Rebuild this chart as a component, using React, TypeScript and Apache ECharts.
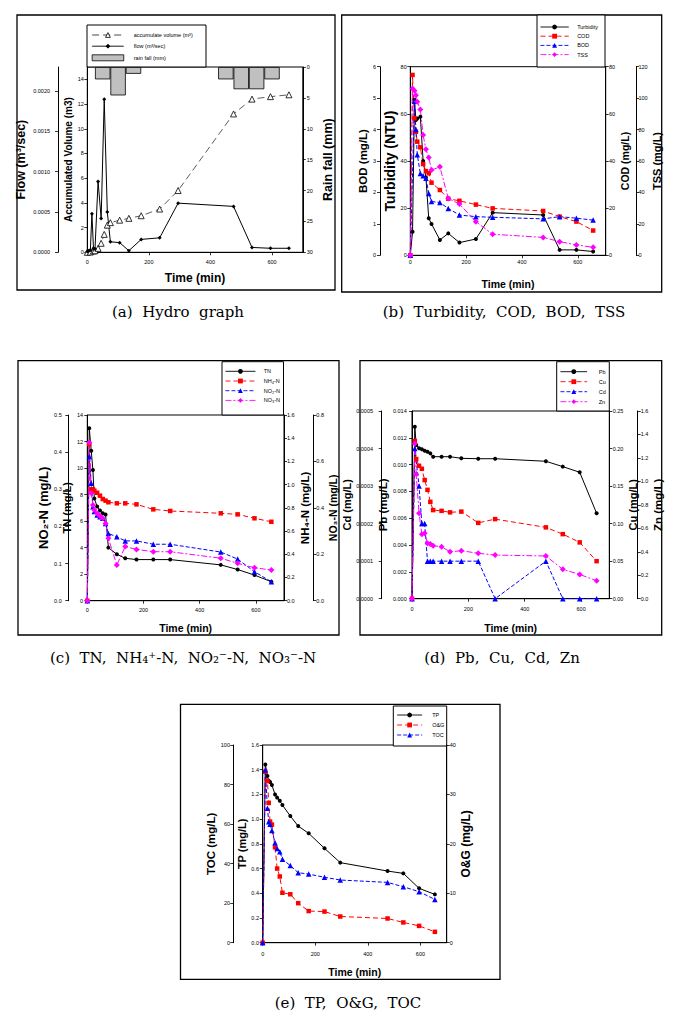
import React, { useEffect, useRef } from "react";
import * as echarts from "echarts";

// ---------- (a) Hydro graph ----------
const timeA = [0, 5, 10, 15, 20, 25, 35, 45, 55, 65, 75, 105, 135, 175, 235, 295, 475, 535, 595, 655];
const flowA = [0.00001, 0.00002, 0.00003, 0.00048, 0.00005, 0.00004, 0.00088, 0.00042, 0.0019, 0.0005, 0.00013, 0.00012, 0.00002, 0.00016, 0.00018, 0.00061, 0.00057, 0.00006, 0.00005, 0.00005];
const volumeA = [0, null, 0.02, null, 0.1, 0.13, 0.32, 0.73, 1.45, 2.2, 2.4, 2.6, 2.75, 2.96, 3.5, 5.0, 11.2, 12.4, 12.6, 12.75];
const rainTime = [50, 100, 150, 450, 500, 550, 600];
const rainA = [2.0, 4.6, 1.1, 2.0, 3.6, 3.6, 2.0];

// ---------- (b) Turbidity, COD, BOD, TSS ----------
const timeB = [0, 8, 15, 20, 25, 36, 46, 56, 66, 76, 106, 136, 176, 235, 295, 476, 535, 595, 655];
const turbB = [0, 10, 66, 57.4, 58, 58.8, 40, 33, 15.7, 13.3, 6.5, 9.3, 5.4, 6.9, 18.1, 17.1, 2.3, 2.3, 1.6];
const codB = [0, 76.5, 58.1, 52.4, 48.2, 45.8, 38.7, 35.7, 34.8, 30.8, 27.7, 24.0, 23.1, 21.5, 19.9, 18.8, 16.4, 14.3, 10.5];
const bodB = [0, null, 4.9, 4.0, 3.2, 2.6, 2.53, 2.45, 1.97, 1.71, 1.68, 1.49, 1.28, 1.23, 1.21, 1.16, 1.23, 1.18, 1.12];
const tssB = [0, 106.2, 104.7, 101.9, 97.7, 92.8, 76.5, 67.4, 62.3, 54.2, 56.3, 36.2, 32.6, 21.4, 13.4, 11.4, 8.7, 6.6, 5.1];

// ---------- (c) TN, NH4-N, NO2-N, NO3-N ----------
const timeC = [0, 7, 14, 20, 25, 35, 45, 55, 65, 75, 105, 135, 175, 235, 295, 475, 535, 595, 655];
const tnC = [0, 13.0, 11.3, 9.86, 7.7, 7.1, 6.8, 6.6, 6.5, 4.0, 3.5, 3.2, 3.1, 3.1, 3.1, 2.7, 2.35, 1.93, 1.43];
const nh4C = [0, 1.35, 0.96, 0.96, 0.948, 0.93, 0.905, 0.876, 0.862, 0.848, 0.839, 0.839, 0.83, 0.787, 0.773, 0.753, 0.744, 0.71, 0.68];
const no2C = [0, 0.388, 0.316, 0.253, 0.24, 0.231, 0.226, 0.222, 0.208, 0.181, 0.172, 0.161, 0.161, 0.152, 0.152, 0.131, 0.112, 0.078, 0.051];
const no3C = [0, 0.682, 0.463, 0.412, 0.391, 0.376, 0.365, 0.355, 0.333, 0.269, 0.154, 0.233, 0.221, 0.211, 0.211, 0.183, 0.161, 0.142, 0.132];

// ---------- (d) Pb, Cu, Cd, Zn ----------
const timeD = [0, 10, 15, 25, 35, 45, 55, 65, 75, 105, 135, 175, 235, 295, 475, 535, 595, 655];
const pbD = [0, 0.01283, 0.01146, 0.01122, 0.01114, 0.01104, 0.01096, 0.01084, 0.01059, 0.01059, 0.01059, 0.01047, 0.01044, 0.01044, 0.01025, 0.00985, 0.00943, 0.00637];
const cuD = [0, 0.21, 0.186, 0.177, 0.173, 0.158, 0.145, 0.129, 0.118, 0.117, 0.115, 0.116, 0.101, 0.106, 0.095, 0.086, 0.075, 0.05];
const cdD = [0, 0.0004, null, 0.0003, 0.0002, 0.0002, 0.0001, 0.0001, 0.0001, 0.0001, 0.0001, 0.0001, 0.0001, 0, 0.0001, 0, 0, 0];
const znD = [0, 1.32, 1.06, 0.728, 0.55, 0.557, 0.472, 0.466, 0.452, 0.443, 0.4, 0.409, 0.387, 0.372, 0.364, 0.25, 0.207, 0.153];

// ---------- (e) TP, O&G, TOC ----------
const timeE = [0, 10, 18, 23, 28, 35, 47, 55, 65, 75, 105, 135, 175, 235, 295, 475, 535, 595, 655];
const tpE = [0, 1.443, 1.35, 1.31, 1.3, 1.276, 1.2, 1.174, 1.149, 1.114, 1.025, 0.944, 0.885, 0.764, 0.648, 0.58, 0.561, 0.44, 0.391];
const ogE = [0, 34.6, 32.7, 28.3, 24.5, 23.9, 19.3, 15.0, 13.4, 10.1, 9.8, 8.0, 6.4, 6.3, 5.3, 4.9, 4.1, 3.4, 2.2];
const tocE = [0, 87.4, 68, 61.2, 59.9, 56.7, 50.6, 47.7, 46, 42.2, 39, 35.4, 34.7, 33.1, 31.7, 30.5, 28.3, 25.8, 21.9];

// ---------- tick labels ----------
const timeTicks = [0, 200, 400, 600];
const volumeTicks = [0, 2, 4, 6, 8, 10, 12, 14];
const flowTicks = [0, 0.0005, 0.001, 0.0015, 0.002];

const captions = [
  "(a) \u00A0Hydro \u00A0graph",
  "(b) \u00A0Turbidity, \u00A0COD, \u00A0BOD, \u00A0TSS",
  "(c) \u00A0TN, \u00A0NH\u2084\u207A-N, \u00A0NO\u2082\u207B-N, \u00A0NO\u2083\u207B-N",
  "(d) \u00A0Pb, \u00A0Cu, \u00A0Cd, \u00A0Zn",
  "(e) \u00A0TP, \u00A0O&G, \u00A0TOC",
];

// ---------- layout ----------
const FONT = "'Liberation Sans', Arial, 'DejaVu Sans', sans-serif";
const NARROW = "'Liberation Sans Narrow', 'Liberation Sans', Arial, sans-serif";
const SERIF = "'DejaVu Serif', 'Liberation Serif', serif";

const grids = [
  { left: 87.3, top: 67, width: 215.5, height: 185.3 },
  { left: 410.3, top: 66.7, width: 195.4, height: 188.6 },
  { left: 87.3, top: 415, width: 196.7, height: 185.7 },
  { left: 412, top: 411, width: 197.3, height: 187.7 },
  { left: 262.7, top: 745, width: 184, height: 197.7 },
];
const frames = [
  [17, 15, 318, 275],
  [341.7, 15, 320, 277],
  [18, 360.7, 321, 274.3],
  [360, 360.7, 301.7, 274.3],
  [180.5, 704.3, 319.5, 275],
];
const legendBoxes = [
  [87, 25, 119, 42],
  [537, 15, 68, 52],
  [222, 361.7, 61.5, 53.3],
  [556.7, 361.7, 52.6, 49.3],
  [393.3, 706, 53.4, 40],
];
const captionPos = [
  [178, 312],
  [504, 312],
  [183, 658],
  [502, 658],
  [348, 1003],
];
const xLabelMargin = [6.5, 3.6, 5.9, 7.5, 7.9];
const xNameGap = [20, 23, 22, 24, 24];

function pairs(times: number[], vals: (number | null)[]) {
  const out: number[][] = [];
  times.forEach((t, i) => {
    const v = vals[i];
    if (v !== null && v !== undefined) out.push([t, v]);
  });
  return out;
}

function yAx(
  gi: number, pos: string, offset: number, min: number, max: number, step: number,
  name: string, nameGap: number, nameSize: number, dec: number, margin: number,
  opts: any = {}
) {
  const ax: any = {
    type: "value", gridIndex: gi, position: pos, offset, min, max, interval: step,
    inverse: !!opts.inverse,
    name, nameLocation: "middle", nameGap,
    nameTextStyle: { fontSize: nameSize, fontWeight: "bold", fontFamily: FONT, color: "#000" },
    axisLine: { show: true, onZero: false, lineStyle: { color: "#000", width: 1 } },
    axisTick: { show: true, length: 3, lineStyle: { color: "#000", width: 0.8 } },
    axisLabel: {
      fontSize: 5.5, fontFamily: FONT, color: "#000", margin,
      formatter: (v: number) => v.toFixed(dec),
    },
    splitLine: { show: false },
  };
  if (opts.ticks) {
    ax.axisTick.customValues = opts.ticks;
    ax.axisLabel.customValues = opts.ticks;
  }
  return ax;
}

const ST = {
  black: { symbol: "circle", size: 4, color: "#000", dash: "solid" },
  red: { symbol: "rect", size: 4.5, color: "#ff0000", dash: [5, 3] },
  blue: { symbol: "triangle", size: 5.5, color: "#0000ff", dash: [4, 2] },
  pink: { symbol: "diamond", size: 6, color: "#ff00ff", dash: [6, 2, 2, 2] },
};

function line(name: string, xi: number, yi: number, times: number[], vals: (number | null)[], st: any) {
  return {
    type: "line", name, xAxisIndex: xi, yAxisIndex: yi,
    data: pairs(times, vals),
    symbol: st.symbol, symbolSize: st.size,
    itemStyle: { color: st.fill ?? st.color, borderColor: st.border ?? st.color, borderWidth: st.bw ?? 0 },
    lineStyle: { color: st.lineColor ?? st.color, width: st.width ?? 1, type: st.dash },
    emphasis: { disabled: true },
  };
}

function legend(names: any[], left: number, top: number, itemWidth: number, gap: number, pad: number) {
  return {
    orient: "vertical", left, top, padding: 0, itemWidth, itemHeight: 6, itemGap: gap,
    selectedMode: false, data: names,
    lineStyle: { width: 0.9 },
    textStyle: { fontSize: 5.5, fontFamily: FONT, color: "#000", lineHeight: 6, padding: [0, 0, 0, pad] },
  };
}

function buildOption() {
  const xAxes = grids.map((g, i) => ({
    type: "value", gridIndex: i, min: 0, max: 700,
    name: "Time (min)", nameLocation: "middle", nameGap: xNameGap[i],
    nameTextStyle: {
      fontSize: i === 0 ? 12 : 10.5, fontWeight: "bold",
      fontFamily: i === 0 ? FONT : NARROW, color: "#000",
    },
    axisLine: { show: true, onZero: false, lineStyle: { color: "#000", width: 1 } },
    axisTick: { show: true, length: 3, lineStyle: { color: "#000", width: 0.8 }, customValues: timeTicks },
    axisLabel: { fontSize: 5.5, fontFamily: FONT, color: "#000", margin: xLabelMargin[i], customValues: timeTicks },
    splitLine: { show: false },
  }));

  const yAxes: any[] = [];
  const add = (a: any) => { yAxes.push(a); return yAxes.length - 1; };

  // (a)
  const yVol = add(yAx(0, "left", 0, 0, 15, 2, "Accumulated Volume (m3)", 9, 10, 0, 3.5, { ticks: volumeTicks }));
  const yFlow = add(yAx(0, "left", 29.3, 0, 0.0023, 0.0005, "Flow (m\u00B3/sec)", 31, 12.5, 4, 8, { ticks: flowTicks }));
  const yRain = add(yAx(0, "right", 0, 0, 30, 5, "Rain fall (mm)", 19, 12.5, 0, 4, { inverse: true }));
  // (b)
  const yTurb = add(yAx(1, "left", 0, 0, 80, 20, "Turbidity (NTU)", 10.5, 14, 0, 3.6));
  const yBod = add(yAx(1, "left", 30.3, 0, 6, 1, "BOD (mg/L)", 10, 11.5, 0, 4));
  const yCod = add(yAx(1, "right", 0, 0, 80, 20, "COD (mg/L)", 12.6, 10.5, 0, 3.3));
  const yTss = add(yAx(1, "right", 30.3, 0, 120, 20, "TSS (mg/L)", 15.5, 11, 0, 2.5));
  // (c)
  const yTn = add(yAx(2, "left", 0, 0, 14, 2, "TN (mg/L)", 12.3, 11, 0, 4.3));
  const yNo2 = add(yAx(2, "left", 19, 0, 0.5, 0.1, "NO\u2082-N (mg/L)", 16.6, 13, 1, 6.6));
  const yNh4 = add(yAx(2, "right", 0, 0, 1.6, 0.2, "NH\u2084-N (mg/L)", 14.3, 11.5, 1, 3));
  const yNo3 = add(yAx(2, "right", 29.3, 0, 0.8, 0.2, "NO\u2083-N (mg/L)", 14, 10.5, 1, 3));
  // (d)
  const yPb = add(yAx(3, "left", 0, 0, 0.014, 0.002, "Pb (mg/L)", 12.5, 11.5, 3, 5.3));
  const yCd = add(yAx(3, "left", 30.3, 0, 0.0005, 0.0001, "Cd (mg/L)", 23.4, 11, 4, 8.7));
  const yCu = add(yAx(3, "right", 0, 0, 0.25, 0.05, "Cu (mg/L)", 17, 11, 2, 3.4));
  const yZn = add(yAx(3, "right", 28.4, 0, 1.6, 0.2, "Zn (mg/L)", 14, 11.5, 1, 3));
  // (e)
  const yTp = add(yAx(4, "left", 0, 0, 1.6, 0.2, "TP (mg/L)", 12.7, 11, 1, 3.7));
  const yToc = add(yAx(4, "left", 29.4, 0, 100, 20, "TOC (mg/L)", 15, 11.5, 0, 3.3));
  const yOg = add(yAx(4, "right", 0, 0, 40, 10, "O&G (mg/L)", 13.3, 12, 0, 3));

  const series: any[] = [
    {
      type: "bar", name: "rain fall (mm)", xAxisIndex: 0, yAxisIndex: yRain,
      data: pairs(rainTime, rainA),
      barWidth: (grids[0].width * 50) / 700,
      itemStyle: { color: "#c0c0c0", borderColor: "#000", borderWidth: 0.8 },
      emphasis: { disabled: true },
    },
    line("accumulate volume (m\u00B3)", 0, yVol, timeA, volumeA,
      { symbol: "triangle", size: 6, color: "#000", fill: "#fff", border: "#000", bw: 0.8, lineColor: "#333", width: 0.8, dash: [7, 4] }),
    line("flow (m\u00B3/sec)", 0, yFlow, timeA, flowA, { symbol: "diamond", size: 4, color: "#000", dash: "solid" }),

    line("Turbidity", 1, yTurb, timeB, turbB, ST.black),
    line("COD", 1, yCod, timeB, codB, ST.red),
    line("BOD", 1, yBod, timeB, bodB, ST.blue),
    line("TSS", 1, yTss, timeB, tssB, ST.pink),

    line("TN", 2, yTn, timeC, tnC, ST.black),
    line("NH\u2084-N", 2, yNh4, timeC, nh4C, ST.red),
    line("NO\u2082-N", 2, yNo2, timeC, no2C, ST.blue),
    line("NO\u2083-N", 2, yNo3, timeC, no3C, ST.pink),

    line("Pb", 3, yPb, timeD, pbD, ST.black),
    line("Cu", 3, yCu, timeD, cuD, ST.red),
    line("Cd", 3, yCd, timeD, cdD, ST.blue),
    line("Zn", 3, yZn, timeD, znD, ST.pink),

    line("TP", 4, yTp, timeE, tpE, ST.black),
    line("O&G", 4, yOg, timeE, ogE, ST.red),
    line("TOC", 4, yToc, timeE, tocE, ST.blue),
  ];

  const legends = [
    legend([
      { name: "accumulate volume (m\u00B3)", itemStyle: { color: "#fff", borderColor: "#000", borderWidth: 0.8 } },
      "flow (m\u00B3/sec)",
      { name: "rain fall (mm)", icon: "rect", itemStyle: { color: "#c0c0c0", borderColor: "#000", borderWidth: 0.8 } },
    ], 91.7, 32, 31.6, 5.2, 5),
    legend(["Turbidity", "COD", "BOD", "TSS"], 540, 24, 28.3, 3.2, 3.4),
    legend(["TN", "NH\u2084-N", "NO\u2082-N", "NO\u2083-N"], 225, 368.3, 30, 3.7, 3.3),
    legend(["Pb", "Cu", "Cd", "Zn"], 560, 368.7, 26.7, 4, 6.6),
    legend(["TP", "O&G", "TOC"], 396.7, 712, 25, 4, 5),
  ];

  const graphics: any[] = [];
  frames.forEach(([x, y, w, h]) =>
    graphics.push({ type: "rect", shape: { x, y, width: w, height: h }, style: { fill: "none", stroke: "#000", lineWidth: 1.3 }, silent: true })
  );
  legendBoxes.forEach(([x, y, w, h]) =>
    graphics.push({ type: "rect", shape: { x, y, width: w, height: h }, style: { fill: "#fff", stroke: "#000", lineWidth: 1 }, silent: true })
  );
  captions.forEach((t, i) =>
    graphics.push({
      type: "text", x: captionPos[i][0], y: captionPos[i][1], silent: true,
      style: { text: t, fill: "#000", fontSize: 15, fontFamily: SERIF, align: "center", verticalAlign: "middle" },
    })
  );

  return {
    animation: false,
    backgroundColor: "#fff",
    textStyle: { fontFamily: FONT },
    grid: grids.map((g) => ({ ...g, show: true, borderColor: "#000", borderWidth: 1, backgroundColor: "transparent", containLabel: false })),
    xAxis: xAxes,
    yAxis: yAxes,
    legend: legends,
    graphic: graphics,
    series,
  };
}

export default function App() {
  const ref = useRef<HTMLDivElement>(null);
  useEffect(() => {
    if (!ref.current) return;
    const chart = echarts.init(ref.current, null, { renderer: "svg" });
    chart.setOption(buildOption() as any);
    return () => chart.dispose();
  }, []);
  return (
    <div
      ref={ref}
      style={{ position: "absolute", left: 0, top: 0, width: 680, height: 1019, background: "#fff" }}
    />
  );
}
